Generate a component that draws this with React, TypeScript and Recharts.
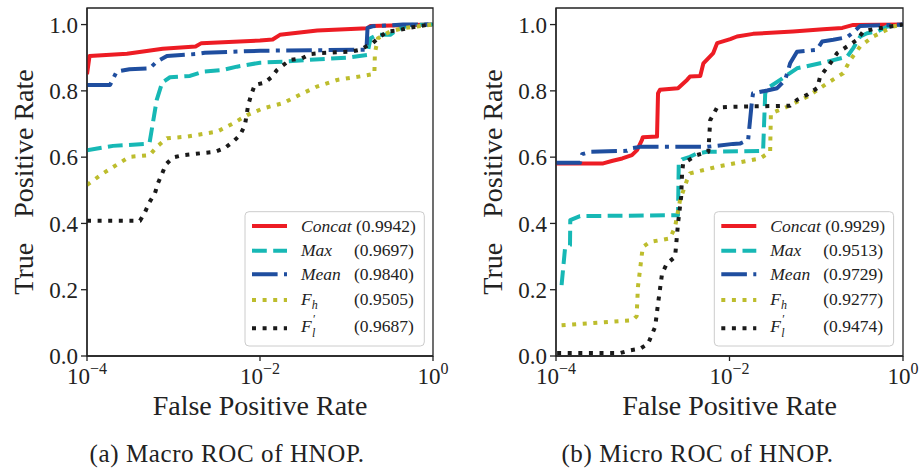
import React from 'react';
import { LineChart, Line, XAxis, YAxis, ReferenceArea } from 'recharts';

const FONT = "'Liberation Serif', 'Times New Roman', serif";
const INK = '#222222';

// ---------- tick labels ----------
const xTicks = [1e-4, 1e-2, 1];
const yTicks = [0, 0.2, 0.4, 0.6, 0.8, 1.0];

// ---------- legend text ----------
const seriesNames = ['Concat', 'Max', 'Mean', 'F_h', "F_l'"];
const macroAuc = ['(0.9942)', '(0.9697)', '(0.9840)', '(0.9505)', '(0.9687)'];
const microAuc = ['(0.9929)', '(0.9513)', '(0.9729)', '(0.9277)', '(0.9474)'];

// ---------- (a) Macro ROC : [FPR, TPR] ----------
const macroConcat: [number, number][] = [
  [1e-4, 0.85], [1.07e-4, 0.905], [2.9e-4, 0.912], [4.9e-4, 0.92], [7.5e-4, 0.927],
  [1.8e-3, 0.934], [2.1e-3, 0.944], [0.01, 0.952], [0.014, 0.955], [0.017, 0.969],
  [0.046, 0.982], [0.175, 0.989], [0.19, 0.996], [1, 1],
];
const macroMax: [number, number][] = [
  [1e-4, 0.621], [2e-4, 0.634], [4.9e-4, 0.64], [5.3e-4, 0.645], [6.4e-4, 0.773],
  [7.4e-4, 0.825], [9.1e-4, 0.841], [1.55e-3, 0.845], [2.2e-3, 0.858], [3.7e-3, 0.863],
  [5.4e-3, 0.873], [0.01, 0.885], [0.0185, 0.888], [0.035, 0.893], [0.11, 0.901],
  [0.173, 0.908], [0.19, 0.959], [0.225, 0.969], [0.32, 0.969], [0.38, 0.984],
  [0.54, 0.999], [1, 1],
];
const macroMean: [number, number][] = [
  [1e-4, 0.818], [1.85e-4, 0.818], [2.2e-4, 0.858], [3.1e-4, 0.865], [5.3e-4, 0.868],
  [6.4e-4, 0.888], [8.4e-4, 0.905], [1.8e-3, 0.911], [2.3e-3, 0.915], [0.01, 0.921],
  [0.17, 0.924], [0.175, 0.99], [0.2, 0.995], [0.45, 1], [1, 1],
];
const macroFh: [number, number][] = [
  [1e-4, 0.516], [1.53e-4, 0.551], [2.4e-4, 0.583], [3.1e-4, 0.601], [5.3e-4, 0.606],
  [6.4e-4, 0.631], [8.4e-4, 0.657], [1.43e-3, 0.662], [3.2e-3, 0.677], [4.9e-3, 0.702],
  [7.1e-3, 0.727], [0.0108, 0.747], [0.0185, 0.763], [0.024, 0.778], [0.0314, 0.793],
  [0.0456, 0.813], [0.078, 0.833], [0.155, 0.845], [0.21, 0.851], [0.213, 0.914],
  [0.231, 0.959], [0.32, 0.979], [0.45, 0.989], [1, 1],
];
const macroFl: [number, number][] = [
  [1e-4, 0.408], [4.1e-4, 0.408], [4.7e-4, 0.435], [5.3e-4, 0.465], [6.1e-4, 0.491],
  [6.6e-4, 0.521], [7.4e-4, 0.551], [8.2e-4, 0.579], [9.9e-4, 0.599], [1.3e-3, 0.606],
  [2.3e-3, 0.613], [3e-3, 0.616], [3.9e-3, 0.627], [4.9e-3, 0.647], [5.9e-3, 0.667],
  [6.7e-3, 0.697], [7.3e-3, 0.757], [7.9e-3, 0.788], [8.7e-3, 0.818], [0.0114, 0.825],
  [0.0138, 0.843], [0.0157, 0.863], [0.0222, 0.893], [0.0306, 0.898], [0.0378, 0.911],
  [0.0494, 0.914], [0.084, 0.917], [0.11, 0.918], [0.143, 0.924], [0.2, 0.944],
  [0.244, 0.964], [0.3, 0.979], [0.384, 0.982], [0.5, 0.989], [0.653, 0.994],
  [0.853, 0.999], [1, 1],
];

// ---------- (b) Micro ROC : [FPR, TPR] ----------
const microConcat: [number, number][] = [
  [1e-4, 0.581], [3.5e-4, 0.581], [4.5e-4, 0.589], [5.8e-4, 0.596], [7.5e-4, 0.606],
  [8.6e-4, 0.621], [9.8e-4, 0.652], [1e-3, 0.66], [1.46e-3, 0.662], [1.5e-3, 0.793],
  [1.58e-3, 0.803], [2.55e-3, 0.808], [3.24e-3, 0.833], [3.5e-3, 0.843], [4.6e-3, 0.845],
  [5e-3, 0.883], [6.5e-3, 0.914], [7.2e-3, 0.944], [0.0102, 0.956], [0.0122, 0.964],
  [0.0187, 0.972], [0.054, 0.979], [0.12, 0.986], [0.2, 0.99], [0.267, 0.999], [1, 1],
];
const microMax: [number, number][] = [
  [1.16e-4, 0.214], [1.27e-4, 0.324], [1.45e-4, 0.334], [1.46e-4, 0.41], [1.89e-4, 0.422],
  [2.55e-3, 0.425], [2.6e-3, 0.581], [2.84e-3, 0.593], [3.5e-3, 0.601], [4.2e-3, 0.611],
  [5.5e-3, 0.616], [0.0244, 0.619], [0.0258, 0.793], [0.0294, 0.813], [0.0384, 0.833],
  [0.06, 0.868], [0.134, 0.888], [0.227, 0.903], [0.267, 0.929], [0.321, 0.964],
  [0.386, 0.974], [0.504, 0.979], [0.657, 0.994], [1, 1],
];
const microMean: [number, number][] = [
  [1e-4, 0.583], [1.89e-4, 0.583], [2e-4, 0.609], [2.5e-4, 0.616], [6.6e-4, 0.619],
  [7.5e-4, 0.627], [9.3e-4, 0.631], [5.5e-3, 0.631], [0.011, 0.64], [0.0132, 0.641],
  [0.0164, 0.652], [0.0182, 0.773], [0.0187, 0.793], [0.0272, 0.801], [0.0354, 0.808],
  [0.0438, 0.833], [0.05, 0.883], [0.06, 0.918], [0.102, 0.924], [0.117, 0.949],
  [0.157, 0.954], [0.227, 0.962], [0.26, 0.974], [0.321, 0.996], [1, 1],
];
const microFh: [number, number][] = [
  [1.16e-4, 0.093], [7.7e-4, 0.108], [8.5e-4, 0.12], [8.8e-4, 0.208], [1e-3, 0.329],
  [1.21e-3, 0.344], [2.07e-3, 0.355], [2.36e-3, 0.39], [2.69e-3, 0.47], [3.24e-3, 0.531],
  [3.5e-3, 0.551], [7.2e-3, 0.571], [0.0225, 0.596], [0.0294, 0.616], [0.03, 0.732],
  [0.0462, 0.752], [0.0785, 0.782], [0.134, 0.823], [0.204, 0.853], [0.246, 0.893],
  [0.321, 0.934], [0.453, 0.964], [0.771, 0.994], [1, 1],
];
const microFl: [number, number][] = [
  [1.03e-4, 0.009], [5.5e-4, 0.009], [7.1e-4, 0.017], [9.3e-4, 0.022], [1.15e-3, 0.037],
  [1.39e-3, 0.088], [1.5e-3, 0.158], [1.67e-3, 0.249], [1.9e-3, 0.279], [2.36e-3, 0.299],
  [2.55e-3, 0.4], [2.77e-3, 0.48], [2.84e-3, 0.551], [2.92e-3, 0.581], [4.2e-3, 0.606],
  [5.7e-3, 0.616], [6e-3, 0.712], [7.2e-3, 0.75], [0.0102, 0.752], [0.05, 0.755],
  [0.0603, 0.773], [0.0785, 0.788], [0.102, 0.808], [0.111, 0.843], [0.145, 0.883],
  [0.174, 0.914], [0.227, 0.934], [0.296, 0.954], [0.348, 0.979], [0.453, 0.986], [1, 1],
];

// ---------- styles ----------
const seriesStyle = [
  { color: '#ed1c24', dash: undefined as string | undefined },
  { color: '#17b8b5', dash: '14.8 6.4' },
  { color: '#1f4e9f', dash: '25.6 6.4 4 6.4' },
  { color: '#bdbd2d', dash: '4 6.6' },
  { color: '#1a1a1a', dash: '4 6.6' },
];

const toPts = (arr: [number, number][]) => arr.map(([x, y]) => ({ x, y }));

function LogTick(props: any) {
  const { x, y, payload } = props;
  const e = Math.round(Math.log10(payload.value));
  const exp = (e < 0 ? '\u2212' : '') + Math.abs(e);
  return (
    <text x={x} y={y} dy={21} textAnchor="middle" fontFamily={FONT} fontSize={23} fill={INK}>
      <tspan>10</tspan>
      <tspan dy={-10} fontSize={16}>{exp}</tspan>
    </text>
  );
}

function Panel(props: { width: number; yAxisWidth: number; marginRight: number; series: [number, number][][] }) {
  const { width, yAxisWidth, marginRight, series } = props;
  return (
    <LineChart width={width} height={470} margin={{ top: 8, right: marginRight, bottom: 74, left: 0 }}>
      <XAxis
        dataKey="x"
        type="number"
        scale="log"
        domain={[1e-4, 1]}
        ticks={xTicks}
        interval={0}
        allowDataOverflow
        height={40}
        tickSize={5}
        tickMargin={2}
        tick={LogTick}
        axisLine={{ stroke: INK, strokeWidth: 1.3 }}
        tickLine={{ stroke: INK, strokeWidth: 1.3 }}
      />
      <YAxis
        type="number"
        domain={[0, 1.05]}
        ticks={yTicks}
        interval={0}
        allowDataOverflow
        width={yAxisWidth}
        tickSize={6}
        tickMargin={3}
        tickFormatter={(v: number) => v.toFixed(1)}
        tick={{ fontSize: 23, fill: INK, fontFamily: FONT }}
        axisLine={{ stroke: INK, strokeWidth: 1.3 }}
        tickLine={{ stroke: INK, strokeWidth: 1.3 }}
      />
      <ReferenceArea x1={1e-4} x2={1} y1={0} y2={1.05} fill="none" stroke={INK} strokeWidth={1.3} ifOverflow="visible" />
      {series.map((s, i) => (
        <Line
          key={i}
          data={toPts(s)}
          dataKey="y"
          type="linear"
          dot={false}
          activeDot={false}
          stroke={seriesStyle[i].color}
          strokeWidth={4}
          strokeDasharray={seriesStyle[i].dash}
          strokeLinejoin="round"
          isAnimationActive={false}
        />
      ))}
    </LineChart>
  );
}

function LegendBox({ left, top, aucs }: { left: number; top: number; aucs: string[] }) {
  const lineY = [14.3, 39, 62.6, 88.3, 116.6];
  const baseY = [20.3, 44.3, 68.3, 92.8, 120.3];
  const nameX = left + 56;
  const valX = left + 109;
  const fs = 17.5;
  return (
    <g fontFamily={FONT} fill={INK}>
      <rect x={left} y={top} width={179.3} height={134.3} rx={4} fill="#fff" fillOpacity={0.85} stroke="#cccccc" strokeWidth={1} />
      {seriesStyle.map((s, i) => (
        <line
          key={i}
          x1={left + 7}
          x2={left + 42}
          y1={top + lineY[i]}
          y2={top + lineY[i]}
          stroke={s.color}
          strokeWidth={4}
          strokeDasharray={s.dash}
        />
      ))}
      <text x={nameX} y={top + baseY[0]} fontSize={fs}>
        <tspan fontStyle="italic">{seriesNames[0]}</tspan>
        <tspan>{' ' + aucs[0]}</tspan>
      </text>
      <text x={nameX} y={top + baseY[1]} fontSize={fs} fontStyle="italic">{seriesNames[1]}</text>
      <text x={nameX} y={top + baseY[2]} fontSize={fs} fontStyle="italic">{seriesNames[2]}</text>
      <text x={nameX} y={top + baseY[3]} fontSize={fs} fontStyle="italic">
        <tspan>F</tspan>
        <tspan dy={4} fontSize={12}>h</tspan>
      </text>
      <text x={nameX} y={top + baseY[4]} fontSize={fs} fontStyle="italic">F</text>
      <text x={nameX + 11} y={top + baseY[4] + 5} fontSize={12} fontStyle="italic">l</text>
      <text x={nameX + 12} y={top + baseY[4] - 9} fontSize={12}>{'\u2032'}</text>
      {[1, 2, 3, 4].map((i) => (
        <text key={i} x={valX} y={top + baseY[i]} fontSize={fs}>{aucs[i]}</text>
      ))}
    </g>
  );
}

function Annotations() {
  return (
    <svg width={919} height={470} style={{ position: 'absolute', left: 0, top: 0, pointerEvents: 'none' }}>
      <g fontFamily={FONT} fill={INK}>
        <text transform="translate(33,182) rotate(-90)" textAnchor="middle" fontSize={28}>
          True<tspan dx={18}>{' Positive Rate'}</tspan>
        </text>
        <text transform="translate(502,182) rotate(-90)" textAnchor="middle" fontSize={28}>
          True<tspan dx={18}>{' Positive Rate'}</tspan>
        </text>
        <text x={260} y={415} textAnchor="middle" fontSize={28}>False Positive Rate</text>
        <text x={729.5} y={415} textAnchor="middle" fontSize={28}>False Positive Rate</text>
        <text x={227} y={461.5} textAnchor="middle" fontSize={25} letterSpacing={0.6}>(a) Macro ROC of HNOP.</text>
        <text x={697.5} y={461.5} textAnchor="middle" fontSize={25} letterSpacing={0.6}>(b) Micro ROC of HNOP.</text>
      </g>
      <LegendBox left={245} top={211.7} aucs={macroAuc} />
      <LegendBox left={714.3} top={211.7} aucs={microAuc} />
    </svg>
  );
}

export default function App() {
  return (
    <div style={{ position: 'absolute', left: 0, top: 0, width: 919, height: 470, background: '#fff' }}>
      <div style={{ position: 'absolute', left: 0, top: 0 }}>
        <Panel width={460} yAxisWidth={87} marginRight={27} series={[macroConcat, macroMax, macroMean, macroFh, macroFl]} />
      </div>
      <div style={{ position: 'absolute', left: 460, top: 0 }}>
        <Panel width={459} yAxisWidth={96} marginRight={16} series={[microConcat, microMax, microMean, microFh, microFl]} />
      </div>
      <Annotations />
    </div>
  );
}
